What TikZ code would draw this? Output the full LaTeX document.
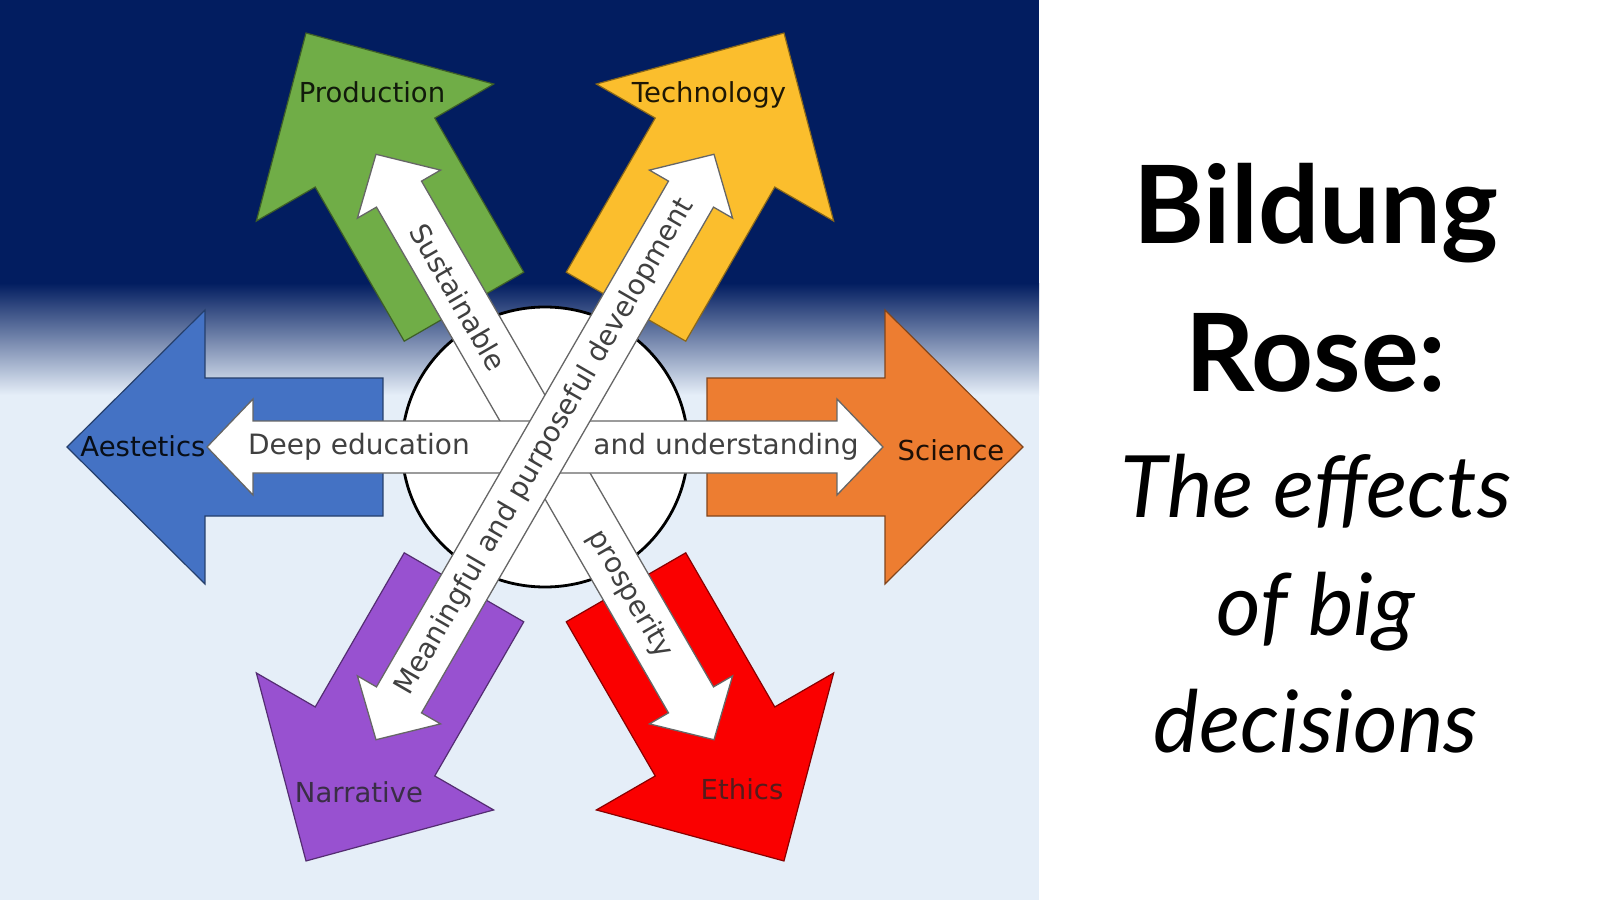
\documentclass[tikz,border=0pt]{standalone}
\usepackage{fontspec}
\usepackage{tikz}
\newfontfamily\rosefont{DejaVu Sans}
\newfontfamily\titlefont{Lato}

\definecolor{navyB}{RGB}{2,29,96}
\definecolor{lightB}{RGB}{229,238,248}
\definecolor{sciOrange}{RGB}{237,125,49}
\definecolor{techYellow}{RGB}{251,190,45}
\definecolor{prodGreen}{RGB}{112,173,71}
\definecolor{aestBlue}{RGB}{68,114,196}
\definecolor{narrPurple}{RGB}{152,81,208}
\definecolor{ethRed}{RGB}{250,0,0}
\definecolor{narrText}{RGB}{58,46,70}
\definecolor{ethText}{RGB}{85,28,28}

\tikzset{
  petal/.style={draw=#1!55!black, line width=1.2pt, fill=#1, line join=miter},
  beam/.style={draw=black!60, line width=1.3pt, fill=white, line join=miter},
  petallabel/.style={font=\rosefont\fontsize{27.5}{30}\selectfont, inner sep=0pt},
  beamlabel/.style={font=\rosefont\fontsize{28}{30}\selectfont, text=black!75, inner sep=0pt},
  titlebold/.style={font=\titlefont\bfseries\fontsize{108}{120}\selectfont, anchor=base},
  titleital/.style={font=\titlefont\itshape\fontsize{86}{100}\selectfont, anchor=base}
}

\begin{document}
\begin{tikzpicture}[x=1pt,y=1pt]
  \useasboundingbox (-545,-453) rectangle (1055,447);
  % Fons
  \fill[white] (-545,-453) rectangle (1055,447);
  \fill[navyB] (-545,447) rectangle (494,164);
  \shade[top color=navyB, bottom color=lightB] (-545,164) rectangle (494,52);
  \fill[lightB] (-545,52) rectangle (494,-453);

  % Fletxes de colors
  \foreach \ang/\col in {0/sciOrange, 60/techYellow, 120/prodGreen,
                         180/aestBlue, 240/narrPurple, 300/ethRed} {
    \draw[petal=\col, rotate=\ang]
      (162,-69) -- (340,-69) -- (340,-137) -- (478,0)
      -- (340,137) -- (340,69) -- (162,69) -- cycle;
  }

  % Cercle central
  \draw[line width=2.8pt, fill=white] (0,0) ellipse (143 and 140);

  % Fletxes blanques
  \begin{scope}[rotate=120]
    \draw[beam] (-338,0) -- (-292,48) -- (-292,26) -- (292,26) -- (292,48)
      -- (338,0) -- (292,-48) -- (292,-26) -- (-292,-26) -- (-292,-48) -- cycle;
  \end{scope}
  \node[beamlabel, rotate=-60] (sust) at (120:173) {Sustainable};
  \node[beamlabel, rotate=-60] (prosp) at (300:170) {prosperity};

  \draw[beam] (-338,0) -- (-292,48) -- (-292,26) -- (292,26) -- (292,48)
    -- (338,0) -- (292,-48) -- (292,-26) -- (-292,-26) -- (-292,-48) -- cycle;
  \node[beamlabel] (deep) at (-186,0) {Deep education};
  \node[beamlabel] (under) at (181,0) {and understanding};

  \begin{scope}[rotate=60]
    \draw[beam] (-338,0) -- (-292,48) -- (-292,26) -- (292,26) -- (292,48)
      -- (338,0) -- (292,-48) -- (292,-26) -- (-292,-26) -- (-292,-48) -- cycle;
  \end{scope}
  \node[beamlabel, rotate=60] (mean) at (0,0) {Meaningful and purposeful development};

  % Etiquetes
  \node[petallabel, text=prodGreen!15!black] (prod) at (-173,355) {Production};
  \node[petallabel, text=techYellow!12!black] (tech) at (164,352) {Technology};
  \node[petallabel, text=aestBlue!12!black] (aest) at (-402,1) {Aestetics};
  \node[petallabel, text=sciOrange!12!black] (sci) at (406,-3) {Science};
  \node[petallabel, text=narrText] (narr) at (-186,-345) {Narrative};
  \node[petallabel, text=ethText] (eth) at (197,-342) {Ethics};

  % Titol
  \node[titlebold] (t1) at (771,204) {Bildung};
  \node[titlebold] (t2) at (771,56) {Rose:};
  \node[titleital] (t3) at (771,-70) {The effects};
  \node[titleital] (t4) at (771,-188) {of big};
  \node[titleital] (t5) at (771,-305) {decisions};
\end{tikzpicture}
\end{document}
